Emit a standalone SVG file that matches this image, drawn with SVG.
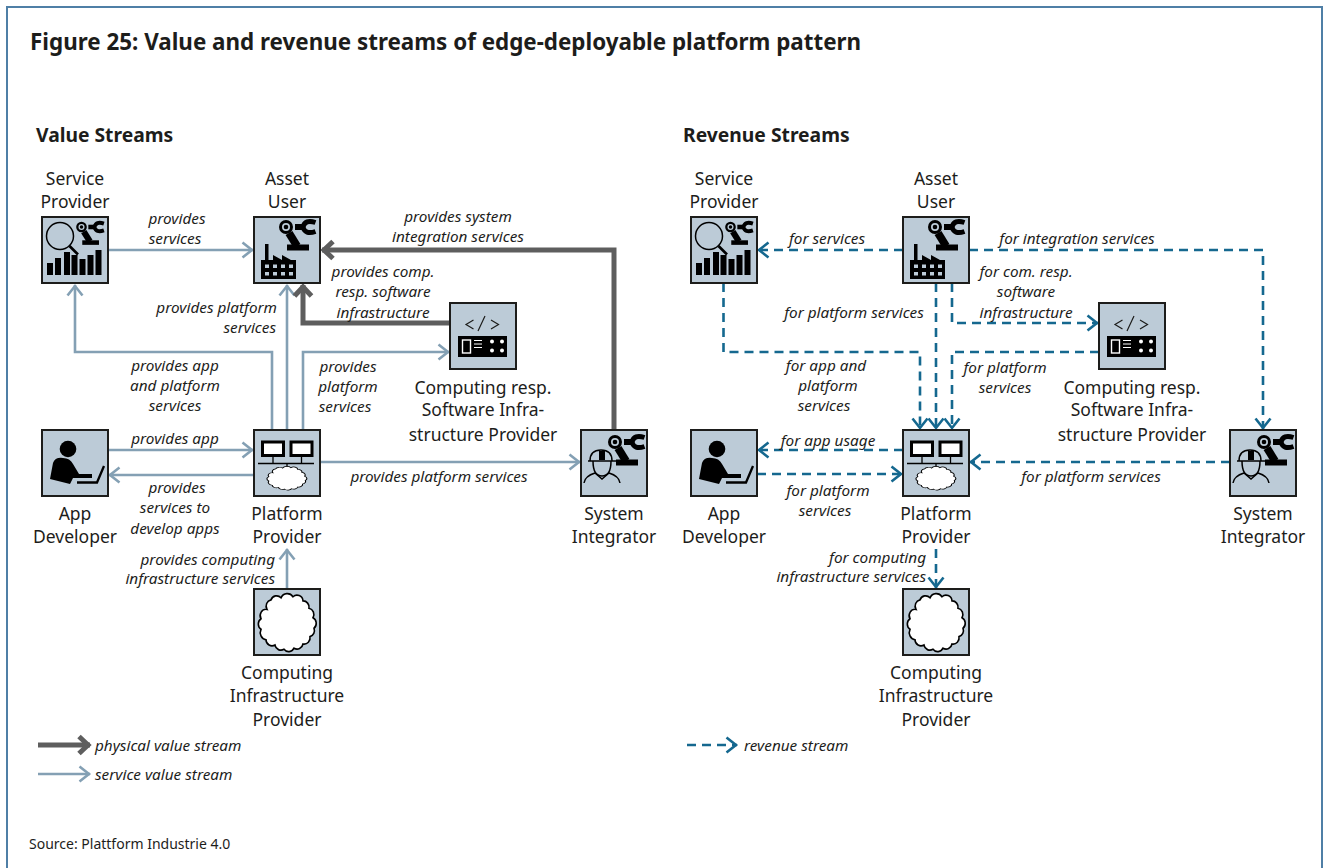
<svg xmlns="http://www.w3.org/2000/svg" xmlns:xlink="http://www.w3.org/1999/xlink" width="1330" height="868" viewBox="0 0 1330 868">
<style>
text{font-family:"Noto Sans","Liberation Sans",sans-serif;fill:#1d1d1b}
.t{font-size:17.5px;text-anchor:middle}
.e{font-size:15.300px;font-style:italic;text-anchor:middle}
.r{font-size:15.300px;font-style:italic;text-anchor:end}
.l{font-size:15.300px;font-style:italic}
.h{font-size:19.300px;font-weight:700}
.box{fill:#bccbd7;stroke:#1d1d1b;stroke-width:2}
.c{fill:none}
.sv{stroke:#84a0b4;stroke-width:2.6;marker-end:url(#as)}
.ph{stroke:#5e5e5e;stroke-width:5;marker-end:url(#ap)}
.rv{stroke:#15688f;stroke-width:2.6;stroke-dasharray:9 6;marker-end:url(#ar)}
.cl{fill:#fff;stroke:#000;stroke-width:1.6;vector-effect:non-scaling-stroke}
</style>
<defs>
<marker id="as" markerUnits="userSpaceOnUse" markerWidth="16" markerHeight="20" refX="12.5" refY="10" orient="auto"><path d="M2 2.5L11.5 10L2 17.5" fill="none" stroke="#84a0b4" stroke-width="2.6"/></marker>
<marker id="ar" markerUnits="userSpaceOnUse" markerWidth="16" markerHeight="20" refX="12.5" refY="10" orient="auto"><path d="M2 2.5L11.5 10L2 17.5" fill="none" stroke="#15688f" stroke-width="2.6"/></marker>
<marker id="ap" markerUnits="userSpaceOnUse" markerWidth="20" markerHeight="24" refX="15" refY="12" orient="auto"><path d="M4 3.5L13 12L4 20.5" fill="none" stroke="#5e5e5e" stroke-width="5"/></marker>
<path id="cloudp" d="M10 17A6 6 0 0 1 14 8A6 6 0 0 1 24 6A7 7 0 0 1 36 5A6 6 0 0 1 46 9A6 6 0 0 1 52 16A6 6 0 0 1 56 25A6 6 0 0 1 57 35A6 6 0 0 1 53 43A6 6 0 0 1 46 50A6 6 0 0 1 37 54A6 6 0 0 1 27 55A6 6 0 0 1 18 51A6 6 0 0 1 9 46A7 7 0 0 1 4 36A6 6 0 0 1 4 26A6 6 0 0 1 10 17Z"/>
<g id="bx"><rect class="box" x="0" y="0" width="66" height="66"/></g>
<g id="robot">
<circle cx="0" cy="0" r="5.500" fill="none" stroke="#000" stroke-width="3"/><circle cx="0" cy="0" r="2.300" fill="#000"/>
<rect x="9" y="-3" width="8" height="6" fill="#000"/>
<path d="M29.500 -4.500Q19 -8 17 0Q19 8 29.500 4.500" fill="none" stroke="#000" stroke-width="5"/>
<path d="M3 6L11 19" stroke="#000" stroke-width="8"/>
<rect x="1" y="17.500" width="22" height="6" fill="#000"/>
</g>
<g id="i-asset">
<use xlink:href="#bx"/>
<g transform="translate(32 10)"><use xlink:href="#robot"/></g>
<path d="M11 27H14.500V43H19V38L28 43V38L37 43H42V62H7V43H11Z" fill="#000"/>
<g fill="#bccbd7"><rect x="11" y="47.500" width="4" height="3.500"/><rect x="19" y="47.500" width="4" height="3.500"/><rect x="27" y="47.500" width="4" height="3.500"/><rect x="35" y="47.500" width="4" height="3.500"/><rect x="11" y="55" width="4" height="3.500"/><rect x="19" y="55" width="4" height="3.500"/><rect x="27" y="55" width="4" height="3.500"/><rect x="35" y="55" width="4" height="3.500"/></g>
</g>
<g id="i-service">
<use xlink:href="#bx"/>
<g transform="translate(39.500 10) scale(.76)"><use xlink:href="#robot"/></g>
<circle cx="18" cy="19" r="13.500" fill="none" stroke="#000" stroke-width="1.500"/>
<path d="M27.500 29L36 37.500" stroke="#000" stroke-width="2.600"/>
<g fill="#000"><rect x="5" y="46" width="6" height="12"/><rect x="13" y="41" width="6" height="17"/><rect x="22" y="35" width="6" height="23"/><rect x="29.500" y="38" width="6" height="20"/><rect x="37.500" y="42" width="6" height="16"/><rect x="45.500" y="38" width="6" height="20"/><rect x="53.500" y="33" width="6" height="25"/></g>
</g>
<g id="i-app">
<use xlink:href="#bx"/>
<circle cx="26" cy="19" r="8.300" fill="#000"/>
<path d="M8 49L11 33Q13 27 21 28Q28 28 31 34L37 44H50V48H36L31 48L28 54Z" fill="#000"/>
<path d="M35 52.500H55L62 36" fill="none" stroke="#000" stroke-width="2.300"/>
</g>
<g id="i-platform">
<use xlink:href="#bx"/>
<rect x="8.500" y="12" width="21" height="13.500" fill="#fff" stroke="#000" stroke-width="3"/>
<rect x="37" y="12" width="21" height="13.500" fill="#fff" stroke="#000" stroke-width="3"/>
<path d="M4 33.500H60M19 27V33.500M47.500 27V33.500M33 33.500V38" stroke="#000" stroke-width="1.300" fill="none"/>
<use xlink:href="#cloudp" class="cl" transform="translate(12 35.500) scale(.69 .43)"/>
</g>
<g id="i-infra">
<use xlink:href="#bx"/>
<use xlink:href="#cloudp" class="cl" transform="translate(3 2.500) scale(1 1.050)"/>
</g>
<g id="i-code">
<use xlink:href="#bx"/>
<path d="M23.500 17L16 21.500L23.500 26M28 28L35 13M41 17L48.500 21.500L41 26" fill="none" stroke="#1d1d1b" stroke-width="1.200"/>
<rect x="8" y="33" width="49" height="21" fill="#000"/>
<rect x="12.500" y="37" width="8" height="13" fill="none" stroke="#fff" stroke-width="1.400"/>
<path d="M24 37.500H32M24 41H32M24 44.500H32" stroke="#fff" stroke-width="1.200"/>
<g fill="#fff"><circle cx="42" cy="38.500" r="2"/><circle cx="52" cy="38.500" r="2"/><circle cx="42" cy="47.500" r="2"/><circle cx="52" cy="47.500" r="2"/></g>
</g>
<g id="i-si">
<use xlink:href="#bx"/>
<g transform="translate(34 12)"><use xlink:href="#robot"/></g>
<path d="M9 31Q9 20 20 20Q31 20 31 31" fill="#bccbd7" stroke="#000" stroke-width="1.500"/>
<rect x="18" y="21" width="6" height="9" fill="#000"/>
<path d="M7 31H35" stroke="#000" stroke-width="1.500"/>
<path d="M12 31Q12 46 21 46Q30 46 30 31" fill="none" stroke="#000" stroke-width="1.500"/>
<path d="M3 53Q4 46 14 43L21 49L28 43Q38 46 39 53" fill="none" stroke="#000" stroke-width="1.500"/>
</g>
</defs>
<rect width="1330" height="868" fill="#fff"/>
<path d="M7 868V7H1322V868" fill="none" stroke="#4f7fa6" stroke-width="2"/>
<text class="h" x="30" y="50" style="font-size:22.400px">Figure 25: Value and revenue streams of edge-deployable platform pattern</text>
<text class="h" x="36" y="142">Value Streams</text>
<text class="h" x="683" y="142">Revenue Streams</text>

<g id="connectors" class="c">
<path class="c sv" d="M108 250H253"/>
<path class="c sv" d="M287 430V285"/>
<path class="c sv" d="M272 430V352H75V285"/>
<path class="c sv" d="M303 430V352H449"/>
<path class="c sv" d="M108 450H253"/>
<path class="c sv" d="M254 475H109"/>
<path class="c sv" d="M320 462H580"/>
<path class="c sv" d="M287 589V549"/>
<path class="c ph" d="M450 323H303V285"/>
<path class="c ph" d="M614 430V250H322"/>
<path class="c ph" d="M38 745H90"/>
<path class="c sv" d="M38 774H90"/>
<path class="c rv" d="M903 250H758"/>
<path class="c rv" d="M969 250H1263V429"/>
<path class="c rv" d="M952 283V323H1098"/>
<path class="c rv" d="M936 283V429"/>
<path class="c rv" d="M723.500 283V352H920V429"/>
<path class="c rv" d="M1099 352H952V429"/>
<path class="c rv" d="M903 450H758"/>
<path class="c rv" d="M757 474H902"/>
<path class="c rv" d="M1230 462H970"/>
<path class="c rv" d="M936 549V588"/>
<path class="c rv" d="M687 745H737"/>
</g>

<g id="n-sp-l"><use xlink:href="#i-service" x="42" y="217"/><text class="t" x="75" y="185">Service</text><text class="t" x="75" y="208">Provider</text></g>
<g id="n-au-l"><use xlink:href="#i-asset" x="254" y="217"/><text class="t" x="287" y="185">Asset</text><text class="t" x="287" y="208">User</text></g>
<g id="n-cr-l"><use xlink:href="#i-code" x="450" y="303"/><text class="t" x="483" y="394">Computing resp.</text><text class="t" x="483" y="416">Software Infra-</text><text class="t" x="483" y="441">structure Provider</text></g>
<g id="n-ad-l"><use xlink:href="#i-app" x="42" y="430"/><text class="t" x="75" y="520">App</text><text class="t" x="75" y="543">Developer</text></g>
<g id="n-pp-l"><use xlink:href="#i-platform" x="254" y="430"/><text class="t" x="287" y="520">Platform</text><text class="t" x="287" y="543">Provider</text></g>
<g id="n-si-l"><use xlink:href="#i-si" x="581" y="430"/><text class="t" x="614" y="520">System</text><text class="t" x="614" y="543">Integrator</text></g>
<g id="n-ci-l"><use xlink:href="#i-infra" x="254" y="589"/><text class="t" x="287" y="679">Computing</text><text class="t" x="287" y="702">Infrastructure</text><text class="t" x="287" y="726">Provider</text></g>

<g id="n-sp-r"><use xlink:href="#i-service" x="691" y="217"/><text class="t" x="724" y="185">Service</text><text class="t" x="724" y="208">Provider</text></g>
<g id="n-au-r"><use xlink:href="#i-asset" x="903" y="217"/><text class="t" x="936" y="185">Asset</text><text class="t" x="936" y="208">User</text></g>
<g id="n-cr-r"><use xlink:href="#i-code" x="1099" y="303"/><text class="t" x="1132" y="394">Computing resp.</text><text class="t" x="1132" y="416">Software Infra-</text><text class="t" x="1132" y="441">structure Provider</text></g>
<g id="n-ad-r"><use xlink:href="#i-app" x="691" y="430"/><text class="t" x="724" y="520">App</text><text class="t" x="724" y="543">Developer</text></g>
<g id="n-pp-r"><use xlink:href="#i-platform" x="903" y="430"/><text class="t" x="936" y="520">Platform</text><text class="t" x="936" y="543">Provider</text></g>
<g id="n-si-r"><use xlink:href="#i-si" x="1230" y="430"/><text class="t" x="1263" y="520">System</text><text class="t" x="1263" y="543">Integrator</text></g>
<g id="n-ci-r"><use xlink:href="#i-infra" x="903" y="589"/><text class="t" x="936" y="679">Computing</text><text class="t" x="936" y="702">Infrastructure</text><text class="t" x="936" y="726">Provider</text></g>

<g id="labels">
<text class="e" x="177" y="224">provides</text><text class="e" x="175" y="244">services</text>
<text class="e" x="458" y="222">provides system</text><text class="e" x="458" y="242">integration services</text>
<text class="e" x="383" y="277">provides comp.</text><text class="e" x="383" y="297">resp. software</text><text class="e" x="383" y="318">infrastructure</text>
<text class="r" x="277" y="313">provides platform</text><text class="r" x="276" y="333">services</text>
<text class="e" x="175" y="371">provides app</text><text class="e" x="175" y="391">and platform</text><text class="e" x="175" y="411">services</text>
<text class="e" x="348" y="372">provides</text><text class="e" x="348" y="392">platform</text><text class="e" x="345" y="412">services</text>
<text class="e" x="175" y="444">provides app</text>
<text class="e" x="177" y="493">provides</text><text class="e" x="175" y="513">services to</text><text class="e" x="175" y="534">develop apps</text>
<text class="e" x="439" y="482">provides platform services</text>
<text class="r" x="275" y="565">provides computing</text><text class="r" x="275" y="584">infrastructure services</text>
<text class="l" x="95" y="751">physical value stream</text><text class="l" x="95" y="780">service value stream</text>
<text x="29" y="849" style="font-size:14px">Source: Plattform Industrie 4.0</text>
<text class="e" x="827" y="244">for services</text>
<text class="e" x="1077" y="244">for integration services</text>
<text class="e" x="1026" y="277">for com. resp.</text><text class="e" x="1026" y="297">software</text><text class="e" x="1026" y="318">infrastructure</text>
<text class="e" x="854" y="318">for platform services</text>
<text class="e" x="826" y="371">for app and</text><text class="e" x="828" y="391">platform</text><text class="e" x="824" y="411">services</text>
<text class="e" x="1005" y="373">for platform</text><text class="e" x="1005" y="393">services</text>
<text class="e" x="828" y="446">for app usage</text>
<text class="e" x="828" y="496">for platform</text><text class="e" x="825" y="516">services</text>
<text class="e" x="1091" y="482">for platform services</text>
<text class="r" x="926" y="563">for computing</text><text class="r" x="926" y="582">infrastructure services</text>
<text class="l" x="744" y="751">revenue stream</text>
</g>
</svg>
